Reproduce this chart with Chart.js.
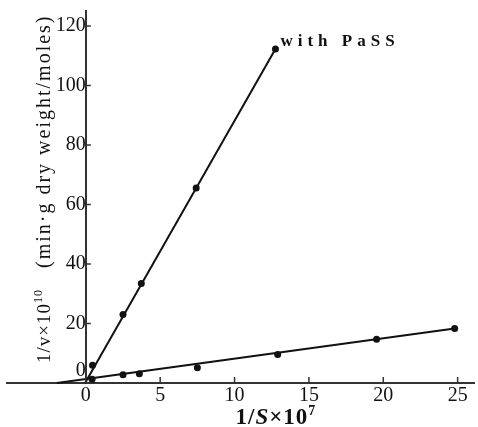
<!DOCTYPE html>
<html>
<head>
<meta charset="utf-8">
<script src="https://cdn.jsdelivr.net/npm/chart.js@4.4.1/dist/chart.umd.min.js"></script>
<style>
  html, body { margin: 0; padding: 0; background: #fff; }
  #wrap { width: 478px; height: 427px; }
</style>
</head>
<body>
<div id="wrap"><canvas id="chart"></canvas></div>
<script>
// measured points, with PaSS
const passX = [0.45, 2.5, 3.73, 7.42, 12.75];
const passY = [6.0, 23.0, 33.4, 65.5, 112.2];
// measured points, without inhibitor
const ctrlX = [0.42, 2.5, 3.6, 7.5, 12.9, 19.55, 24.8];
const ctrlY = [1.3, 2.8, 3.1, 5.1, 9.6, 14.7, 18.3];
// drawn straight lines (end points)
const passLineX = [-0.05, 12.75];
const passLineY = [0, 112.2];
const ctrlLineX = [-1.95, 24.8];
const ctrlLineY = [0, 18.3];
// ticks
const xTicks = [0, 5, 10, 15, 20, 25];
const yTicks = [0, 20, 40, 60, 80, 100, 120];

const ink = '#111';
const toXY = (xs, ys) => xs.map((x, i) => ({ x: x, y: ys[i] }));

// draws a row of text pieces (for superscripts / italics)
function drawRuns(ctx, runs, x, y) {
    let cx = x;
    runs.forEach(r => {
        ctx.font = r.font;
        ctx.letterSpacing = r.ls || '0px';
        ctx.fillText(r.text, cx, y + (r.dy || 0));
        cx += ctx.measureText(r.text).width;
    });
    return cx - x;
}
function runsWidth(ctx, runs) {
    let w = 0;
    runs.forEach(r => {
        ctx.font = r.font;
        ctx.letterSpacing = r.ls || '0px';
        w += ctx.measureText(r.text).width;
    });
    return w;
}

const labels = {
    id: 'labels',
    afterDatasetsDraw(chart) {
        const ctx = chart.ctx;
        const xs = chart.scales.x;
        const ys = chart.scales.y;
        const area = chart.chartArea;
        ctx.save();

        // inward tick marks
        const x0 = xs.getPixelForValue(0);
        ctx.strokeStyle = '#333';
        ctx.lineWidth = 1.5;
        ctx.beginPath();
        xTicks.forEach(v => {
            const px = xs.getPixelForValue(v);
            ctx.moveTo(px, area.bottom);
            ctx.lineTo(px, area.bottom - 6);
        });
        yTicks.forEach(v => {
            const py = ys.getPixelForValue(v);
            ctx.moveTo(x0, py);
            ctx.lineTo(x0 + 5, py);
        });
        ctx.stroke();

        ctx.fillStyle = ink;
        ctx.textBaseline = 'alphabetic';
        ctx.textAlign = 'left';

        // label next to last PaSS point
        const meta = chart.getDatasetMeta(0);
        const last = meta.data[meta.data.length - 1];
        ctx.letterSpacing = '5px';
        ctx.font = 'bold 17px "Liberation Serif"';
        ctx.fillText('with PaSS', last.x + 5, last.y - 3);

        // x title
        const xRuns = [
            { text: '1/', font: 'bold 23px "Liberation Serif"', ls: '1px' },
            { text: 'S', font: 'italic bold 23px "Liberation Serif"', ls: '1px' },
            { text: '\u00d710', font: 'bold 23px "Liberation Serif"', ls: '1px' },
            { text: '7', font: 'bold 14px "Liberation Serif"', dy: -9 }
        ];
        const cx = xs.getPixelForValue(12.75);
        drawRuns(ctx, xRuns, cx - runsWidth(ctx, xRuns) / 2, 424);

        // y title (rotated)
        ctx.translate(50, 363);
        ctx.rotate(-Math.PI / 2);
        const yRuns = [
            { text: '1/v\u00d710', font: '19px "Liberation Serif"', ls: '1px' },
            { text: '10', font: '12px "Liberation Serif"', dy: -8, ls: '1px' },
            { text: '   (min\u00b7g dry weight/moles)', font: '20px "Liberation Serif"', ls: '2px' }
        ];
        drawRuns(ctx, yRuns, 0, 0);
        ctx.restore();
    }
};

const ctx = document.getElementById('chart').getContext('2d');

new Chart(ctx, {
    type: 'scatter',
    data: {
        datasets: [
            {
                data: toXY(passX, passY),
                pointRadius: 3.5,
                pointBackgroundColor: ink,
                pointBorderWidth: 0,
                showLine: false,
                clip: false
            },
            {
                data: toXY(passLineX, passLineY),
                showLine: true,
                pointRadius: 0,
                borderColor: ink,
                borderWidth: 2,
                clip: false
            },
            {
                data: toXY(ctrlX, ctrlY),
                pointRadius: 3.5,
                pointBackgroundColor: ink,
                pointBorderWidth: 0,
                showLine: false,
                clip: false
            },
            {
                data: toXY(ctrlLineX, ctrlLineY),
                showLine: true,
                pointRadius: 0,
                borderColor: ink,
                borderWidth: 2,
                clip: false
            }
        ]
    },
    options: {
        responsive: true,
        maintainAspectRatio: false,
        animation: false,
        devicePixelRatio: 1,
        layout: { padding: { left: 7, right: 0, top: 11, bottom: 0 } },
        plugins: {
            legend: { display: false },
            tooltip: { enabled: false }
        },
        scales: {
            x: {
                type: 'linear',
                position: 'bottom',
                min: -5.3,
                max: 26.1,
                afterBuildTicks: (s) => { s.ticks = xTicks.map(v => ({ value: v })); },
                afterFit: (s) => { s.height = 44; },
                grid: { drawOnChartArea: false, drawTicks: false },
                border: { color: '#333', width: 2 },
                ticks: { color: ink, padding: 1, maxRotation: 0, font: { family: 'Liberation Serif', size: 20 } }
            },
            y: {
                type: 'linear',
                position: { x: 0 },
                min: 0,
                max: 125,
                afterBuildTicks: (s) => { s.ticks = yTicks.map(v => ({ value: v })); },
                afterFit: (s) => { s.paddingTop = 0; s.paddingBottom = 0; },
                grid: { drawOnChartArea: false, drawTicks: false },
                border: { color: '#333', width: 2 },
                ticks: {
                    color: ink,
                    padding: 3,
                    font: { family: 'Liberation Serif', size: 20 },
                    callback: (v) => (v === 0 ? ['0', ''] : String(v))
                }
            }
        }
    },
    plugins: [labels]
});
</script>
</body>
</html>
